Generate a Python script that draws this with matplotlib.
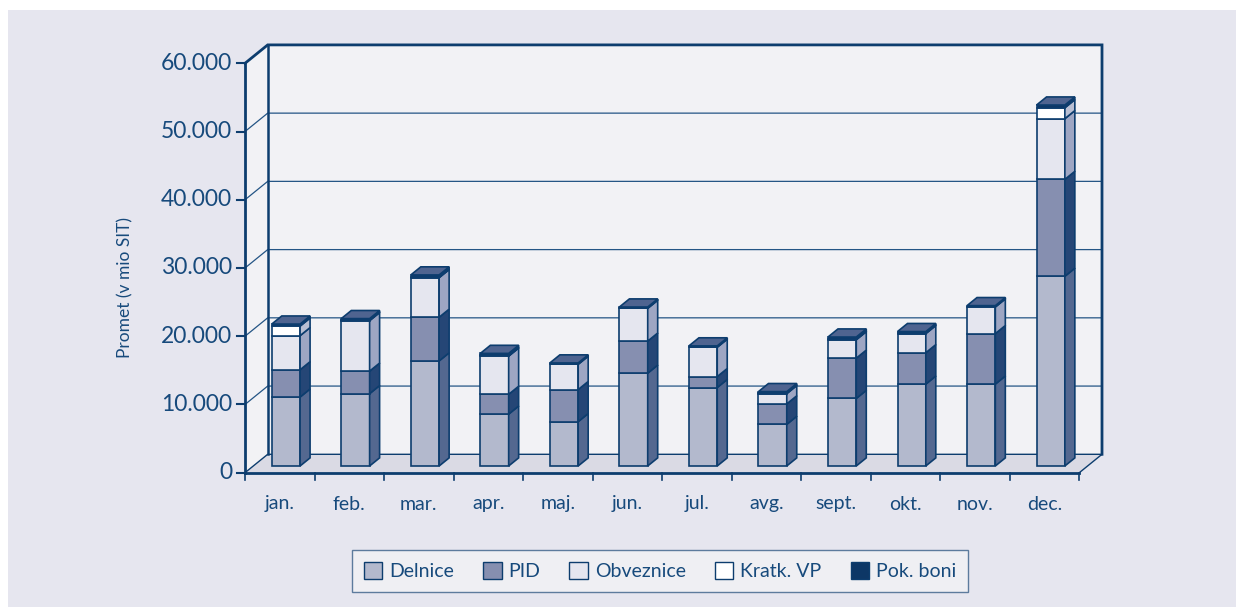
import matplotlib
matplotlib.use("Agg")
import matplotlib.pyplot as plt
from matplotlib.patches import Polygon, Rectangle, Patch
import numpy as np

# ---------------- data ----------------
months = ["jan.", "feb.", "mar.", "apr.", "maj.", "jun.", "jul.", "avg.", "sept.", "okt.", "nov.", "dec."]
series_names = ["Delnice", "PID", "Obveznice", "Kratk. VP", "Pok. boni"]
delnice   = [10100, 10600, 15400, 7600, 6500, 13600, 11500, 6100, 9900, 12000, 12000, 27800]
pid       = [4000, 3300, 6400, 2900, 4700, 4700, 1600, 3000, 5900, 4600, 7400, 14200]
obveznice = [5000, 7400, 5800, 5600, 3700, 4800, 4300, 1500, 2700, 2800, 3900, 8900]
kratk_vp  = [1400, 100, 100, 100, 100, 100, 100, 100, 100, 100, 100, 1600]
pok_boni  = [300, 200, 300, 300, 100, 100, 100, 200, 300, 200, 100, 400]
yticks = [0, 10000, 20000, 30000, 40000, 50000, 60000]
ytick_labels = ["0", "10.000", "20.000", "30.000", "40.000", "50.000", "60.000"]
ylabel = "Promet (v mio SIT)"

# ---------------- style ----------------
W, H = 1243, 607
NAVY = "#0d3d6e"
TXT = "#174a7c"
front_cols = ["#b3b9cd", "#868fb0", "#e5e6ef", "#ffffff", "#0d3766"]
side_cols  = ["#546890", "#254676", "#9ea6c3", "#b9bfd3", "#123a68"]
top_col = "#4f6490"
FONT = "Lato"

fig = plt.figure(figsize=(W / 100, H / 100), dpi=100)
fig.patch.set_facecolor("white")
fig.add_artist(Rectangle((8 / W, 0), (1236 - 8) / W, (H - 10) / H, transform=fig.transFigure,
                         facecolor="#e6e6ef", edgecolor="none", zorder=-10))

# front plane of plot box in pixels
left_px, right_px, bot_px, top_px = 245, 1079.3, 472.7, 63.3
ax = fig.add_axes([left_px / W, (H - bot_px) / H, (right_px - left_px) / W, (bot_px - top_px) / H])
ax.set_xlim(0, 12)
ax.set_ylim(0, 60000)
ax.axis("off")

px_x = (right_px - left_px) / 12.0           # px per category
px_y = (bot_px - top_px) / 60000.0           # px per unit
DX = 22.7 / px_x
DY = 18.4 / px_y
YMAX = 60000

# walls
ax.add_patch(Polygon([(0, 0), (DX, DY), (DX, YMAX + DY), (0, YMAX)], closed=True,
                     facecolor="#f2f2f5", edgecolor="none", zorder=0, clip_on=False))
ax.add_patch(Polygon([(DX, DY), (12 + DX, DY), (12 + DX, YMAX + DY), (DX, YMAX + DY)], closed=True,
                     facecolor="#f2f2f5", edgecolor="none", zorder=0, clip_on=False))
ax.add_patch(Polygon([(0, 0), (12, 0), (12 + DX, DY), (DX, DY)], closed=True,
                     facecolor="#dadae4", edgecolor="none", zorder=0, clip_on=False))

# gridlines
for v in yticks[1:-1]:
    ax.plot([0, DX, 12 + DX], [v, v + DY, v + DY], color="#245585", lw=0.9, zorder=1, clip_on=False)
# frame lines
ax.plot([0, DX, 12 + DX, 12 + DX], [YMAX, YMAX + DY, YMAX + DY, DY], color=NAVY, lw=2.0, zorder=1,
        clip_on=False, solid_joinstyle="miter")
ax.plot([DX, DX], [DY, YMAX + DY], color=NAVY, lw=1.8, zorder=1, clip_on=False)
ax.plot([0, DX, 12 + DX], [0, DY, DY], color=NAVY, lw=1.0, zorder=1, clip_on=False)
ax.plot([12, 12 + DX], [0, DY], color=NAVY, lw=1.0, zorder=1, clip_on=False)
ax.plot([0, 0], [0, YMAX], color=NAVY, lw=2.0, zorder=5, clip_on=False)
ax.plot([0, 12], [0, 0], color=NAVY, lw=2.0, zorder=5, clip_on=False)

# ticks
tick_len_x = 8 / px_x
for v, lab in zip(yticks, ytick_labels):
    ax.plot([-tick_len_x, 0], [v, v], color=NAVY, lw=1.5, clip_on=False, zorder=5)
    ax.text(-13 / px_x, v, lab, ha="right", va="center", fontsize=16.5, color=TXT, family=FONT)
for i in range(13):
    ax.plot([i, i], [0, -7 / px_y], color=NAVY, lw=1.2, clip_on=False, zorder=5)
for i, m in enumerate(months):
    ax.text(i + 0.5, -(504 - bot_px) / px_y, m, ha="center", va="center", fontsize=14,
            color=TXT, family=FONT)
ax.text((125 - left_px) / px_x, (bot_px - 287) / px_y, ylabel, rotation=90, ha="center", va="center",
        fontsize=12.5, color=TXT, family=FONT)

# bars
series = [delnice, pid, obveznice, kratk_vp, pok_boni]
x_in = 18.5 / px_x       # bar left offset within slot (ground plane)
bw = 28.3 / px_x
d0, d1 = 0.365, 0.805
lefts = np.arange(12) + x_in + d0 * DX
bottom = np.zeros(12)
for k, vals in enumerate(series):
    vals = np.array(vals, dtype=float)
    ax.bar(lefts, vals, width=bw, bottom=bottom + d0 * DY, align="edge",
           color=front_cols[k], edgecolor=NAVY, linewidth=1.2, zorder=10, clip_on=False)
    for i in range(12):
        xr = lefts[i] + bw
        y0, y1 = bottom[i], bottom[i] + vals[i]
        side = [(xr, y0 + d0 * DY), (xr + (d1 - d0) * DX, y0 + d1 * DY),
                (xr + (d1 - d0) * DX, y1 + d1 * DY), (xr, y1 + d0 * DY)]
        ax.add_patch(Polygon(side, closed=True, facecolor=side_cols[k], edgecolor=NAVY,
                             linewidth=1.2, zorder=10, clip_on=False))
    bottom = bottom + vals
for i in range(12):
    xl = lefts[i]
    xr = lefts[i] + bw
    yt = bottom[i]
    top = [(xl, yt + d0 * DY), (xr, yt + d0 * DY), (xr + (d1 - d0) * DX, yt + d1 * DY),
           (xl + (d1 - d0) * DX, yt + d1 * DY)]
    ax.add_patch(Polygon(top, closed=True, facecolor=top_col, edgecolor=NAVY,
                         linewidth=1.2, zorder=11, clip_on=False))

# legend
handles = [Patch(facecolor=front_cols[k], edgecolor=NAVY, linewidth=1.0) for k in range(5)]
leg = fig.legend(handles, series_names, loc="center", ncol=5,
                 bbox_to_anchor=(660 / W, (H - 571) / H), frameon=True, fancybox=False,
                 prop={"family": FONT, "size": 14}, handlelength=0.95, handleheight=0.95,
                 handletextpad=0.35, columnspacing=1.5, borderpad=0.6, borderaxespad=0)
leg.get_frame().set_facecolor("#f2f2f5")
leg.get_frame().set_edgecolor("#3a6088")
leg.get_frame().set_linewidth(1.0)
for t in leg.get_texts():
    t.set_color(TXT)

fig.savefig("out.png", dpi=100, facecolor=fig.get_facecolor())
